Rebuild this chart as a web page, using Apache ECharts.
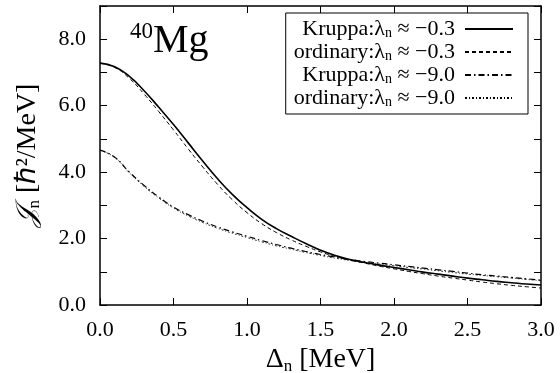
<!DOCTYPE html>
<html>
<head>
<meta charset="utf-8">
<script src="https://cdn.jsdelivr.net/npm/echarts@6/dist/echarts.min.js"></script>
<style>
  html, body { margin: 0; padding: 0; background: #fff; }
  #main { width: 560px; height: 373px; }
</style>
</head>
<body>
<div id="main"></div>
<script>
// pairing gap Delta_n [MeV]
var delta = [0, 0.1, 0.2, 0.3, 0.4, 0.5, 0.6, 0.7, 0.8, 0.9, 1.0, 1.1, 1.2, 1.3, 1.4, 1.5,
             1.6, 1.7, 1.8, 1.9, 2.0, 2.1, 2.2, 2.3, 2.4, 2.5, 2.6, 2.7, 2.8, 2.9, 3.0];
// moment of inertia J_n [hbar^2/MeV]
var kruppa03 = [7.28, 7.17, 6.88, 6.45, 5.95, 5.43, 4.88, 4.33, 3.80, 3.33, 2.93, 2.58, 2.30, 2.07, 1.85, 1.65,
                1.49, 1.37, 1.28, 1.20, 1.13, 1.06, 0.99, 0.93, 0.87, 0.81, 0.76, 0.71, 0.67, 0.63, 0.60];
var ordinary03 = [7.28, 7.15, 6.82, 6.35, 5.82, 5.27, 4.70, 4.15, 3.63, 3.17, 2.78, 2.45, 2.18, 1.96, 1.77, 1.60,
                  1.46, 1.35, 1.26, 1.17, 1.09, 1.01, 0.94, 0.87, 0.81, 0.75, 0.69, 0.64, 0.59, 0.55, 0.51];
var kruppa90 = [4.66, 4.45, 4.00, 3.60, 3.25, 2.95, 2.72, 2.52, 2.35, 2.20, 2.07, 1.94, 1.82, 1.71, 1.61, 1.52,
                1.44, 1.37, 1.31, 1.26, 1.21, 1.16, 1.11, 1.06, 1.01, 0.96, 0.91, 0.87, 0.83, 0.79, 0.75];
var ordinary90 = [4.66, 4.44, 3.98, 3.57, 3.22, 2.92, 2.68, 2.48, 2.31, 2.16, 2.03, 1.90, 1.78, 1.68, 1.58, 1.49,
                  1.41, 1.34, 1.28, 1.23, 1.18, 1.13, 1.08, 1.03, 0.98, 0.93, 0.89, 0.85, 0.81, 0.77, 0.73];
var names = ['Kruppa:λn ≈ −0.3', 'ordinary:λn ≈ −0.3', 'Kruppa:λn ≈ −9.0', 'ordinary:λn ≈ −9.0'];

var font = 'Liberation Serif';
var myChart = echarts.init(document.getElementById('main'));

function pairs(ys) {
  return delta.map(function (x, i) { return [x, ys[i]]; });
}
function mkSeries(name, ys, type, width) {
  return {
    name: name, type: 'line', smooth: true, symbol: 'none',
    data: pairs(ys),
    lineStyle: { color: '#000', width: width, type: type },
    itemStyle: { color: '#000' }
  };
}
// split "Kruppa:λn ≈ −0.3" into rich tokens with a subscript n
function legendText(n) {
  var parts = n.split('λn');
  return '{k|' + parts[0] + 'λ}{s|n}{t|' + parts[1] + '}';
}

var option = {
  backgroundColor: '#fff',
  animation: false,
  grid: { left: 100, right: 19, top: 6, bottom: 68, outerBoundsMode: 'none' },
  legend: {
    right: 32, top: 13, orient: 'vertical', align: 'right',
    itemWidth: 48, itemHeight: 10, itemGap: 1,
    borderColor: '#000', borderWidth: 1, padding: [5, 14, 5, 8],
    backgroundColor: '#fff',
    itemStyle: { color: 'rgba(0,0,0,0)', borderWidth: 0 },
    formatter: legendText,
    textStyle: {
      fontFamily: font, fontSize: 22, color: '#000', padding: [0, 5, 0, 0],
      rich: {
        k: { fontFamily: font, fontSize: 22, width: 86, align: 'right', lineHeight: 22 },
        t: { fontFamily: font, fontSize: 22, lineHeight: 22 },
        s: { fontFamily: font, fontSize: 14, verticalAlign: 'bottom', lineHeight: 12 }
      }
    },
    data: names
  },
  xAxis: [{
    type: 'value', min: 0, max: 3, interval: 0.5,
    name: '{a|Δ}{s|n}{a| [MeV]}', nameLocation: 'middle', nameGap: 38,
    nameTextStyle: {
      fontFamily: font, color: '#000',
      rich: {
        a: { fontFamily: font, fontSize: 28, lineHeight: 30 },
        s: { fontFamily: font, fontSize: 17, verticalAlign: 'bottom', lineHeight: 15 }
      }
    },
    axisLine: { onZero: false, lineStyle: { color: '#000', width: 1.5 } },
    axisTick: { inside: true, length: 7, lineStyle: { color: '#000' } },
    axisLabel: { fontFamily: font, fontSize: 22, color: '#000', margin: 14,
      formatter: function (v) { return v.toFixed(1); } },
    splitLine: { show: false }
  }, {
    type: 'value', position: 'top', min: 0, max: 3, interval: 0.5,
    axisLine: { onZero: false, lineStyle: { color: '#000', width: 1.5 } },
    axisTick: { inside: true, length: 7, lineStyle: { color: '#000' } },
    axisLabel: { show: false }, splitLine: { show: false }
  }],
  yAxis: [{
    type: 'value', min: 0, max: 9, interval: 1,
    name: '{j|𝒥}{s|n}{a| [ℏ²/MeV]}', nameLocation: 'middle', nameGap: 57,
    nameTextStyle: {
      fontFamily: font, color: '#000',
      rich: {
        j: { fontFamily: 'DejaVu Serif', fontSize: 28, lineHeight: 30, fontStyle: 'italic' },
        a: { fontFamily: font, fontSize: 28, lineHeight: 30 },
        s: { fontFamily: font, fontSize: 17, verticalAlign: 'bottom', lineHeight: 15 }
      }
    },
    axisLine: { onZero: false, lineStyle: { color: '#000', width: 1.5 } },
    axisTick: { inside: true, length: 7, lineStyle: { color: '#000' } },
    axisLabel: { fontFamily: font, fontSize: 22, color: '#000', margin: 14,
      formatter: function (v) { return v % 2 === 0 && v < 9 ? v.toFixed(1) : ''; } },
    splitLine: { show: false }
  }, {
    type: 'value', position: 'right', min: 0, max: 9, interval: 1,
    axisLine: { show: true, onZero: false, lineStyle: { color: '#000', width: 1.5 } },
    axisTick: { show: true, inside: true, length: 7, lineStyle: { color: '#000' } },
    axisLabel: { show: false }, splitLine: { show: false }
  }],
  graphic: [{
    type: 'text', left: 130, top: 20,
    style: {
      text: '{p|40}{m|Mg}', fill: '#000',
      rich: {
        p: { fontFamily: font, fontSize: 23, verticalAlign: 'top', lineHeight: 42 },
        m: { fontFamily: font, fontSize: 40, lineHeight: 42 }
      }
    }
  }],
  series: [
    mkSeries(names[0], kruppa03, 'solid', 1.6),
    mkSeries(names[1], ordinary03, [4, 3], 1),
    mkSeries(names[2], kruppa90, [6, 3, 1.5, 3], 1.2),
    mkSeries(names[3], ordinary90, [2, 2, 1, 2], 0.8)
  ]
};

myChart.setOption(option);
</script>
</body>
</html>
